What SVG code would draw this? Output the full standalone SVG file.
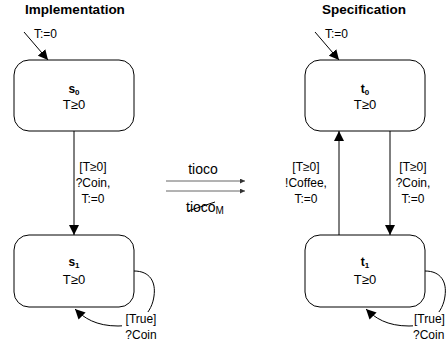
<svg xmlns="http://www.w3.org/2000/svg" width="448" height="348" viewBox="0 0 448 348">
  <style>
    text { font-family: "Liberation Sans", Arial, sans-serif; fill: #000; }
    .title { font-size: 13.5px; font-weight: bold; text-anchor: middle; }
    .state { fill: #fff; stroke: #000; stroke-width: 1; }
    .sname { font-size: 12px; font-weight: bold; text-anchor: middle; }
    .inv { font-size: 13px; text-anchor: middle; }
    .lbl { font-size: 12px; text-anchor: middle; }
    .lbl-l { font-size: 12px; }
    .rel-txt { font-size: 14px; }
    .edge { fill: none; stroke: #000; stroke-width: 1; }
    .rel { fill: none; stroke: #666; stroke-width: 1; }
    .lblbg { fill: #fff; }
  </style>
  <defs>
    <marker id="arrow" viewBox="0 0 10 10" refX="10" refY="5" markerWidth="10" markerHeight="10" markerUnits="userSpaceOnUse" orient="auto">
      <path d="M0,0 L10,5 L0,10 Z" fill="#000"/>
    </marker>
    <marker id="arrowSmall" viewBox="0 0 10 10" refX="10" refY="5" markerWidth="7" markerHeight="5" markerUnits="userSpaceOnUse" orient="auto">
      <path d="M0,0 L10,5 L0,10 Z" fill="#333"/>
    </marker>
  </defs>

  <!-- column titles -->
  <text class="title" x="75" y="14">Implementation</text>
  <text class="title" x="364" y="14">Specification</text>

  <!-- connectors -->
  <g id="connectors">
    <!-- implementation -->
    <line class="edge" x1="24" y1="32" x2="48" y2="60" marker-end="url(#arrow)"/>
    <text class="lbl-l" x="34" y="38">T:=0</text>
    <line class="edge" x1="74" y1="131" x2="74" y2="235" marker-end="url(#arrow)"/>
    <text class="lbl" x="93" y="171">[T≥0]</text>
    <text class="lbl" x="93" y="187">?Coin,</text>
    <text class="lbl" x="93" y="203">T:=0</text>
    <path class="edge" d="M134,271 C150,271 156,282 154,296 C152,312 140,326 118,326 C96,326 84,318 75,309" marker-end="url(#arrow)"/>
    <rect class="lblbg" x="122" y="312" width="38" height="30"/>
    <text class="lbl" x="141" y="323">[True]</text>
    <text class="lbl" x="141" y="339">?Coin</text>

    <!-- refinement relation -->
    <text class="rel-txt" x="203" y="174" text-anchor="middle">tioco</text>
    <line class="rel" x1="166" y1="181" x2="245" y2="181" marker-end="url(#arrowSmall)"/>
    <line class="rel" x1="166" y1="191" x2="245" y2="191" marker-end="url(#arrowSmall)"/>
    <text class="rel-txt" x="186" y="212">tioco<tspan style="font-size:10px" dy="2">M</tspan></text>
    <line x1="188" y1="211" x2="215" y2="202" stroke="#000" stroke-width="1"/>

    <!-- specification -->
    <line class="edge" x1="315" y1="32" x2="339" y2="60" marker-end="url(#arrow)"/>
    <text class="lbl-l" x="325" y="38">T:=0</text>
    <line class="edge" x1="339" y1="235" x2="339" y2="131" marker-end="url(#arrow)"/>
    <text class="lbl" x="306" y="171">[T≥0]</text>
    <text class="lbl" x="306" y="187">!Coffee,</text>
    <text class="lbl" x="306" y="203">T:=0</text>
    <line class="edge" x1="390" y1="131" x2="390" y2="235" marker-end="url(#arrow)"/>
    <text class="lbl" x="413" y="171">[T≥0]</text>
    <text class="lbl" x="413" y="187">?Coin,</text>
    <text class="lbl" x="413" y="203">T:=0</text>
    <path class="edge" d="M425,271 C441,271 447,282 445,296 C443,312 431,326 409,326 C387,326 375,318 366,309" marker-end="url(#arrow)"/>
    <rect class="lblbg" x="413" y="312" width="35" height="30"/>
    <text class="lbl-l" x="414" y="323">[True]</text>
    <text class="lbl-l" x="413" y="339">?Coin</text>
  </g>

  <!-- states -->
  <g id="s0">
    <rect class="state" x="14" y="60" width="120" height="71" rx="15"/>
    <text class="sname" x="74" y="93">s<tspan dy="2" style="font-size:8px">0</tspan></text>
    <text class="inv" x="74" y="109">T≥0</text>
  </g>
  <g id="s1">
    <rect class="state" x="14" y="235" width="120" height="72" rx="15"/>
    <text class="sname" x="74" y="266">s<tspan dy="2" style="font-size:8px">1</tspan></text>
    <text class="inv" x="74" y="284">T≥0</text>
  </g>
  <g id="t0">
    <rect class="state" x="305" y="60" width="120" height="71" rx="15"/>
    <text class="sname" x="365" y="93">t<tspan dy="2" style="font-size:8px">0</tspan></text>
    <text class="inv" x="365" y="109">T≥0</text>
  </g>
  <g id="t1">
    <rect class="state" x="305" y="235" width="120" height="72" rx="15"/>
    <text class="sname" x="365" y="266">t<tspan dy="2" style="font-size:8px">1</tspan></text>
    <text class="inv" x="365" y="284">T≥0</text>
  </g>
</svg>
